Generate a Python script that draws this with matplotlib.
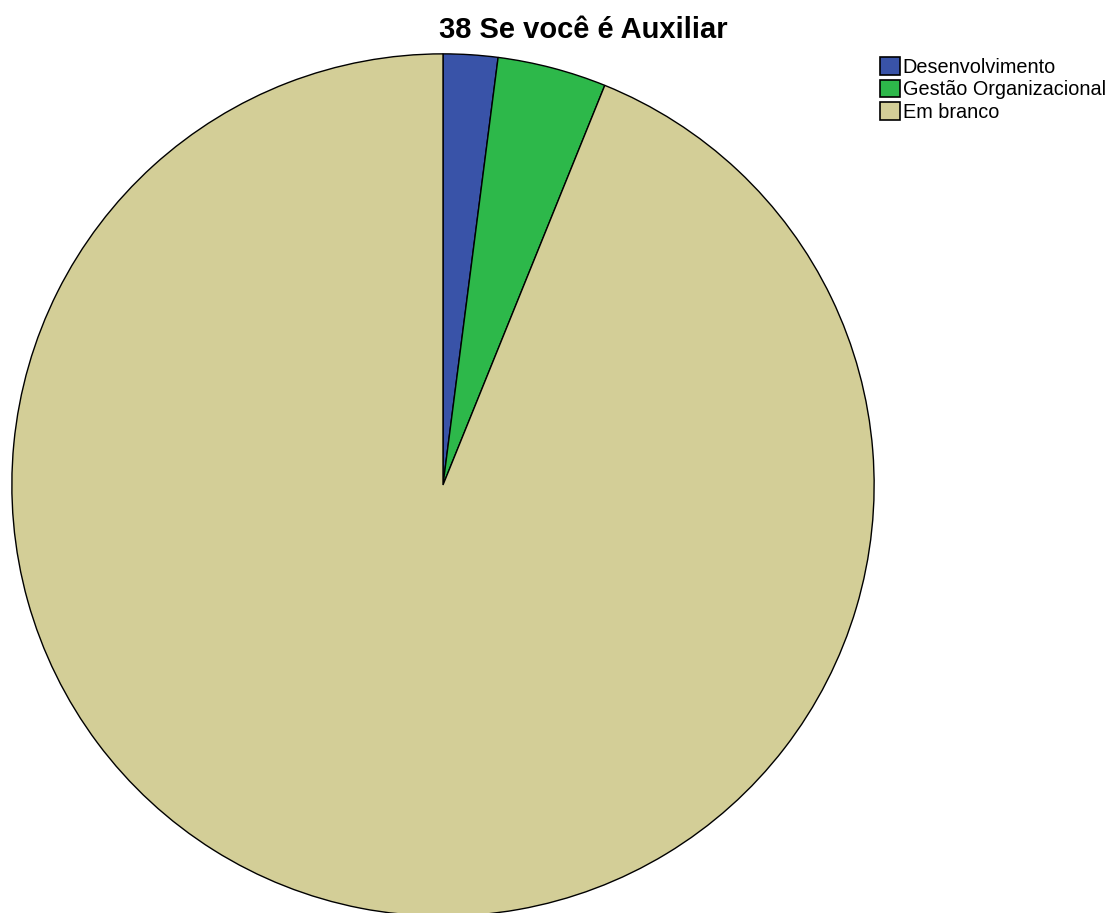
import matplotlib.pyplot as plt
from matplotlib.patches import Patch

# Data
labels = ["Desenvolvimento", "Gestão Organizacional", "Em branco"]
counts = [1, 2, 46]
colors = ["#3953a8", "#2db84a", "#d3ce97"]
title = "38 Se você é Auxiliar"

plt.rcParams['font.family'] = ['Liberation Sans', 'DejaVu Sans']

W, H = 1115, 913
fig = plt.figure(figsize=(W / 100, H / 100), dpi=100)
fig.patch.set_facecolor('white')

# pie centre (443, 485) px, radius 432 px
cx, cy, r = 443, 485, 432
ax = fig.add_axes([(cx - r) / W, (H - cy - r) / H, 2 * r / W, 2 * r / H])
ax.pie(counts, colors=colors, startangle=90, counterclock=False,
       wedgeprops=dict(edgecolor='black', linewidth=1))
ax.set_xlim(-1.002, 1.002)
ax.set_ylim(-1.002, 1.002)
ax.set_aspect('equal')
ax.axis('off')

fig.text(583 / W, 1 - 30 / H, title, ha='center', va='center',
         fontsize=21, fontweight='bold')

handles = [Patch(facecolor=c, edgecolor='black', linewidth=1.2) for c in colors]
fig.legend(handles, labels, loc='upper left', bbox_to_anchor=(878 / W, 1 - 55 / H),
           frameon=False, fontsize=14.3, handlelength=1.0, handleheight=1.0,
           handletextpad=0.15, labelspacing=0.15, borderaxespad=0, borderpad=0.1)

fig.savefig('out.png', dpi=100)
